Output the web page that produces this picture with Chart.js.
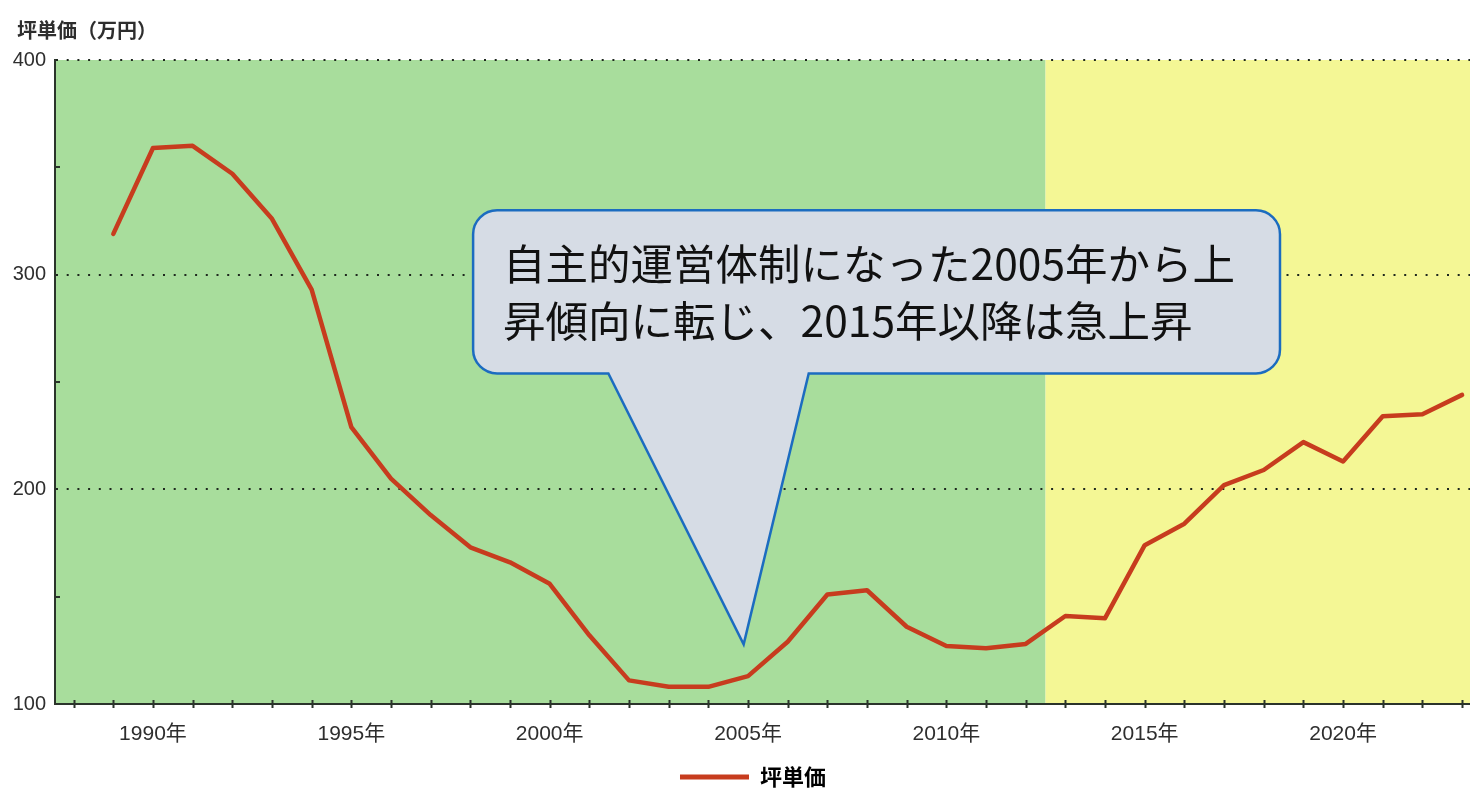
<!DOCTYPE html>
<html>
<head>
<meta charset="utf-8">
<script src="https://cdn.jsdelivr.net/npm/chart.js@4.4.1/dist/chart.umd.min.js"></script>
<style>
  html, body { margin: 0; padding: 0; background: #ffffff; overflow: hidden; }
  #wrap { width: 1470px; height: 789px; position: relative; }
</style>
</head>
<body>
<div id="wrap"><canvas id="chart"></canvas></div>
<script>
// ---- data ----
const years = [1989, 1990, 1991, 1992, 1993, 1994, 1995, 1996, 1997, 1998,
               1999, 2000, 2001, 2002, 2003, 2004, 2005, 2006, 2007, 2008,
               2009, 2010, 2011, 2012, 2013, 2014, 2015, 2016, 2017, 2018,
               2019, 2020, 2021, 2022, 2023];
const prices = [319, 359, 360, 347, 326, 293, 229, 205, 188, 173,
                166, 156, 132, 111, 108, 108, 113, 129, 151, 153,
                136, 127, 126, 128, 141, 140, 174, 184, 202, 209,
                222, 213, 234, 235, 244];
const seriesName = '坪単価';
const yAxisTitle = '坪単価（万円）';
const yTickValues = [100, 200, 300, 400];
const xRange = [1987.53, 2023.2];
const yRange = [100, 400];
const zoneSplitYear = 2012.5;
const calloutLines = ['自主的運営体制になった2005年から上', '昇傾向に転じ、2015年以降は急上昇'];
// callout geometry in data units (year, value)
const calloutBox = { x0: 1998.07, x1: 2018.41, yTop: 330, yBottom: 254 };
const calloutPointer = { baseLeft: 2001.48, baseRight: 2006.53, tipX: 2004.89, tipY: 127.8 };

// ---- styles ----
const lineColor = '#C73C1E';
const axisColor = '#2b342b';
const textColor = '#2e2e2e';
const greenZone = '#A8DD9C';
const yellowZone = '#F4F795';

const bgPlugin = {
  id: 'zones',
  beforeDraw(chart) {
    const { ctx, chartArea: a, scales: { x } } = chart;
    const sx = x.getPixelForValue(zoneSplitYear);
    ctx.save();
    ctx.fillStyle = greenZone;
    ctx.fillRect(a.left, a.top, sx - a.left, a.bottom - a.top);
    ctx.fillStyle = yellowZone;
    ctx.fillRect(sx, a.top, a.right - sx, a.bottom - a.top);
    ctx.restore();
  }
};

const legendShiftPlugin = {
  id: 'legendShift',
  afterLayout(chart) {
    const lg = chart.legend;
    if (!lg) return;
    lg.left += 36;
    lg.top += 9;
    lg.bottom += 9;
  }
};

const tickPlugin = {
  id: 'tickMarks',
  afterDraw(chart) {
    const { ctx, chartArea: a, scales: { x, y } } = chart;
    ctx.save();
    ctx.strokeStyle = axisColor;
    ctx.lineWidth = 2;
    ctx.beginPath();
    x.ticks.forEach(t => {
      if (!Number.isInteger(t.value)) return;
      const px = Math.round(x.getPixelForValue(t.value)) + 0.5;
      ctx.moveTo(px, a.bottom - 4);
      ctx.lineTo(px, a.bottom + 4);
    });
    y.ticks.forEach(t => {
      if (t.value % 100 === 0) return;
      const py = Math.round(y.getPixelForValue(t.value));
      ctx.moveTo(a.left, py);
      ctx.lineTo(a.left + 5, py);
    });
    ctx.stroke();
    // axis title
    ctx.fillStyle = textColor;
    ctx.font = 'bold 20px "Noto Sans CJK JP", sans-serif';
    ctx.textAlign = 'left';
    ctx.textBaseline = 'middle';
    ctx.fillText(yAxisTitle, 17, a.top - 30);
    ctx.restore();
  }
};

const calloutPlugin = {
  id: 'callout',
  afterDatasetsDraw(chart) {
    const { ctx, scales: { x, y } } = chart;
    const L = x.getPixelForValue(calloutBox.x0);
    const R = x.getPixelForValue(calloutBox.x1);
    const T = y.getPixelForValue(calloutBox.yTop);
    const B = y.getPixelForValue(calloutBox.yBottom);
    const bl = x.getPixelForValue(calloutPointer.baseLeft);
    const br = x.getPixelForValue(calloutPointer.baseRight);
    const tx = x.getPixelForValue(calloutPointer.tipX);
    const ty = y.getPixelForValue(calloutPointer.tipY);
    const r = 24;
    ctx.save();
    ctx.beginPath();
    ctx.moveTo(L + r, T);
    ctx.lineTo(R - r, T);
    ctx.arcTo(R, T, R, T + r, r);
    ctx.lineTo(R, B - r);
    ctx.arcTo(R, B, R - r, B, r);
    ctx.lineTo(br, B);
    ctx.lineTo(tx, ty);
    ctx.lineTo(bl, B);
    ctx.lineTo(L + r, B);
    ctx.arcTo(L, B, L, B - r, r);
    ctx.lineTo(L, T + r);
    ctx.arcTo(L, T, L + r, T, r);
    ctx.closePath();
    ctx.fillStyle = '#D6DCE5';
    ctx.fill();
    ctx.lineWidth = 2.5;
    ctx.strokeStyle = '#1C6CC0';
    ctx.lineJoin = 'miter';
    ctx.stroke();
    ctx.fillStyle = '#111111';
    ctx.font = '42.5px "Noto Sans CJK JP", sans-serif';
    ctx.textAlign = 'left';
    ctx.textBaseline = 'middle';
    calloutLines.forEach((s, i) => ctx.fillText(s, L + 30, T + 54 + i * 57));
    ctx.restore();
  }
};

Chart.defaults.font.family = '"Liberation Sans", "Noto Sans CJK JP", sans-serif';

new Chart(document.getElementById('chart'), {
  type: 'line',
  data: {
    datasets: [{
      label: seriesName,
      data: years.map((yr, i) => ({ x: yr, y: prices[i] })),
      borderColor: lineColor,
      backgroundColor: lineColor,
      borderWidth: 4.5,
      pointRadius: 0,
      pointHoverRadius: 0,
      tension: 0,
      borderJoinStyle: 'round',
      borderCapStyle: 'round'
    }]
  },
  options: {
    responsive: true,
    maintainAspectRatio: false,
    animation: false,
    devicePixelRatio: 1,
    layout: { autoPadding: false, padding: { top: 60, left: 0, right: 0, bottom: 0 } },
    plugins: {
      tooltip: { enabled: false },
      title: { display: false },
      legend: {
        position: 'bottom',
        labels: {
          boxWidth: 69,
          boxHeight: 5,
          padding: 3,
          color: '#3a3a3a',
          font: { size: 22, weight: 'bold', family: '"Noto Sans CJK JP", sans-serif' },
          generateLabels: () => [{
            text: seriesName, fillStyle: lineColor, strokeStyle: lineColor,
            lineWidth: 0, hidden: false, datasetIndex: 0
          }]
        }
      }
    },
    scales: {
      x: {
        type: 'linear',
        min: xRange[0],
        max: xRange[1],
        afterFit: s => { s.height = 50; s.paddingLeft = 0; s.paddingRight = 0; },
        grid: { display: false, drawTicks: false },
        border: { display: true, color: axisColor, width: 2 },
        ticks: {
          stepSize: 1,
          includeBounds: false,
          autoSkip: false,
          maxRotation: 0,
          padding: 18,
          color: textColor,
          font: { size: 21 },
          callback: v => (Number.isInteger(v) && v % 5 === 0) ? v + '年' : ''
        }
      },
      y: {
        min: yRange[0],
        max: yRange[1],
        afterFit: s => { s.width = 55; },
        grid: {
          drawTicks: false,
          lineWidth: 2,
          color: c => (c.tick && yTickValues.includes(c.tick.value) && c.tick.value !== yRange[0]) ? '#1e281e' : 'rgba(0,0,0,0)'
        },
        border: { display: true, color: axisColor, width: 2, dash: [2, 8.7] },
        ticks: {
          stepSize: 50,
          padding: 9,
          color: textColor,
          font: { size: 20 },
          callback: v => yTickValues.includes(v) ? String(v) : ''
        }
      }
    }
  },
  plugins: [bgPlugin, legendShiftPlugin, tickPlugin, calloutPlugin]
});
</script>
</body>
</html>
